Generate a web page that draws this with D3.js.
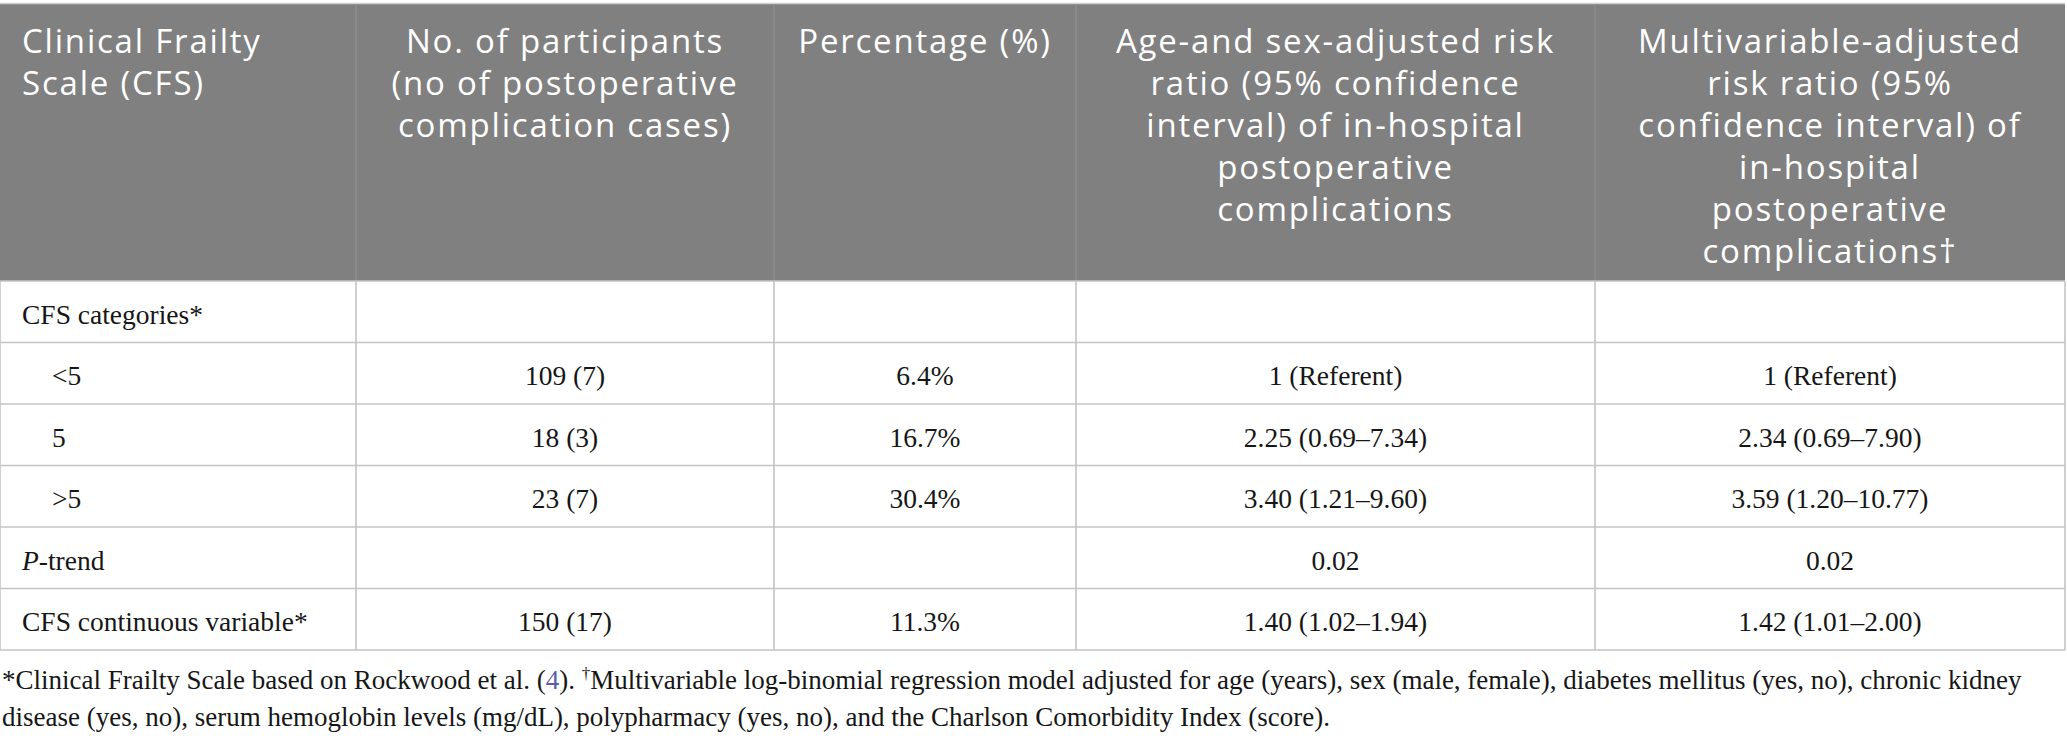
<!DOCTYPE html>
<html><head><meta charset="utf-8">
<script src="https://cdn.jsdelivr.net/npm/d3@7"></script>
<style>
html,body{margin:0;padding:0;background:#fff;}
svg{display:block;}
</style></head>
<body>
<svg id="chart" width="2067" height="741"></svg>
<script>
// ---- data ----
const headerCol1 = ["Clinical Frailty", "Scale (CFS)"];
const headerCol2 = ["No. of participants", "(no of postoperative", "complication cases)"];
const headerCol3 = ["Percentage (%)"];
const headerCol4 = ["Age-and sex-adjusted risk", "ratio (95% confidence", "interval) of in-hospital", "postoperative", "complications"];
const headerCol5 = ["Multivariable-adjusted", "risk ratio (95%", "confidence interval) of", "in-hospital", "postoperative", "complications\u2020"];

const rowLabels = ["CFS categories*", "<5", "5", ">5", "P-trend", "CFS continuous variable*"];
const indented = [false, true, true, true, false, false];
const participants = ["", "109 (7)", "18 (3)", "23 (7)", "", "150 (17)"];
const percentages = ["", "6.4%", "16.7%", "30.4%", "", "11.3%"];
const ageSexRR = ["", "1 (Referent)", "2.25 (0.69\u20137.34)", "3.40 (1.21\u20139.60)", "0.02", "1.40 (1.02\u20131.94)"];
const multiRR = ["", "1 (Referent)", "2.34 (0.69\u20137.90)", "3.59 (1.20\u201310.77)", "0.02", "1.42 (1.01\u20132.00)"];

const footnoteLines = [
  [{t:"*Clinical Frailty Scale based on Rockwood et al. ("},{t:"4",link:true},{t:"). "},{t:"\u2020",sup:true},{t:"Multivariable log-binomial regression model adjusted for age (years), sex (male, female), diabetes mellitus (yes, no), chronic kidney"}],
  [{t:"disease (yes, no), serum hemoglobin levels (mg/dL), polypharmacy (yes, no), and the Charlson Comorbidity Index (score)."}]
];

// ---- layout ----
const colEdges = [0, 356, 774, 1076, 1595, 2065];
const headerTop = 4, headerBottom = 281, tableBottom = 650;
const svg = d3.select("#chart");

const headers = [headerCol1, headerCol2, headerCol3, headerCol4, headerCol5];
const bodyCols = [rowLabels, participants, percentages, ageSexRR, multiRR];

const y = d3.scaleBand().domain(d3.range(rowLabels.length)).range([headerBottom, tableBottom]);

// header background
svg.append("rect").attr("x", colEdges[0]).attr("y", headerTop)
  .attr("width", colEdges[5]-colEdges[0]).attr("height", headerBottom-headerTop)
  .attr("fill", "#7f807f");
svg.append("line").attr("x1",0).attr("x2",colEdges[5]).attr("y1",headerTop-0.5).attr("y2",headerTop-0.5)
  .attr("stroke","#cfcfcf").attr("stroke-width",1.5);

// header vertical separators
svg.selectAll("line.hsep").data(colEdges.slice(1,5)).enter().append("line")
  .attr("x1", d=>d).attr("x2", d=>d).attr("y1", headerTop).attr("y2", headerBottom)
  .attr("stroke", "#8f908f").attr("stroke-width", 1.2);

// header text
headers.forEach((lines, i) => {
  const left = i === 0;
  const x = left ? colEdges[0] + 22 : (colEdges[i] + colEdges[i+1]) / 2;
  const t = svg.append("text")
    .attr("font-family", "'Open Sans', Lato, sans-serif")
    .attr("font-weight", 400)
    .attr("font-size", 33)
    .attr("letter-spacing", 1.8)
    .attr("fill", "#ffffff")
    .attr("text-anchor", left ? "start" : "middle");
  t.selectAll("tspan").data(lines).enter().append("tspan")
    .attr("x", x).attr("y", (d, k) => 53 + k * 42).text(d => d);
});

// body grid: horizontal lines
const hLines = d3.range(rowLabels.length + 1).map(i => i < rowLabels.length ? y(i) : tableBottom);
svg.selectAll("line.hgrid").data(hLines).enter().append("line")
  .attr("x1", colEdges[0]).attr("x2", colEdges[5])
  .attr("y1", d => d).attr("y2", d => d)
  .attr("stroke", "#c4c4c4").attr("stroke-width", 1.6);
// body grid: vertical lines
svg.selectAll("line.vgrid").data(colEdges).enter().append("line")
  .attr("x1", d => d).attr("x2", d => d)
  .attr("y1", headerBottom).attr("y2", tableBottom)
  .attr("stroke", "#c4c4c4").attr("stroke-width", 1.6);

// body text
bodyCols.forEach((vals, c) => {
  vals.forEach((v, r) => {
    if (!v) return;
    const cy = y(r) + y.bandwidth() / 2 + 12;
    const t = svg.append("text")
      .attr("font-family", "'Liberation Serif', 'Times New Roman', serif")
      .attr("font-size", 27.5)
      .attr("fill", "#161616")
      .attr("y", cy);
    if (c === 0) {
      t.attr("x", colEdges[0] + (indented[r] ? 52 : 22)).attr("text-anchor", "start");
      if (v.startsWith("P-")) {
        t.append("tspan").attr("font-style", "italic").text("P");
        t.append("tspan").text(v.slice(1));
      } else t.text(v);
    } else {
      t.attr("x", (colEdges[c] + colEdges[c+1]) / 2).attr("text-anchor", "middle").text(v);
    }
  });
});

// footnote
footnoteLines.forEach((segs, i) => {
  const t = svg.append("text")
    .attr("font-family", "'Liberation Serif', 'Times New Roman', serif")
    .attr("font-size", 27)
    .attr("fill", "#161616")
    .attr("x", 2).attr("y", 689 + i * 37);
  segs.forEach(s => {
    const sp = t.append("tspan").text(s.t);
    if (s.link) sp.attr("fill", "#5b5bb0");
    if (s.sup) sp.attr("font-size", 17).attr("dy", -10).attr("data-sup", 1);
  });
  t.selectAll("tspan").each(function(d, k, nodes) {
    if (k > 0 && nodes[k-1].getAttribute("data-sup")) d3.select(this).attr("dy", 10);
  });
});
</script>
</body></html>
